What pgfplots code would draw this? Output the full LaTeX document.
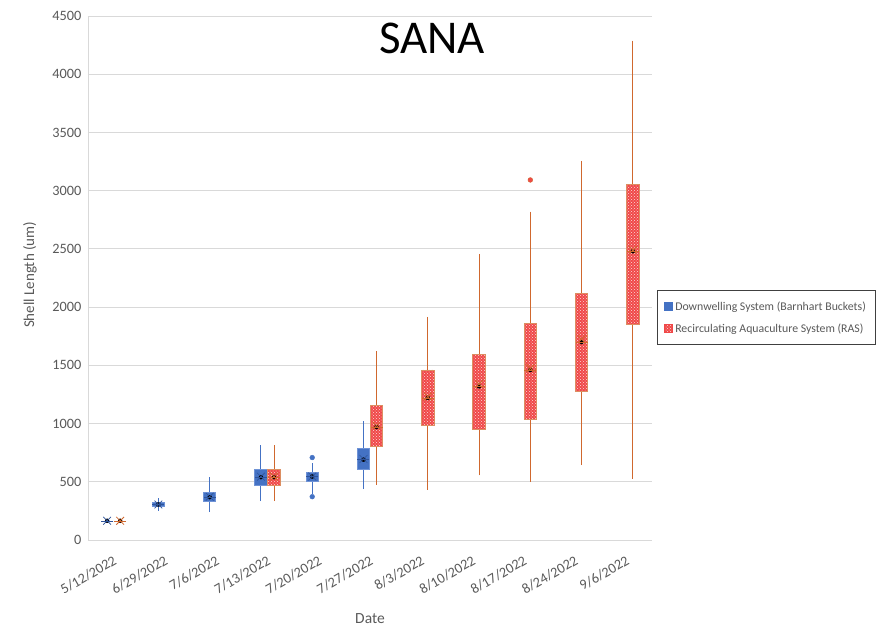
\documentclass[border=0pt]{standalone}
\usepackage{fontspec}
\setmainfont{Carlito}
\usepackage{pgfplots}
\usepackage{pgfplotstable}
\pgfplotsset{compat=1.18}
\usetikzlibrary{patterns}
\definecolor{dwblue}{HTML}{4472C4}
\definecolor{dwedge}{HTML}{6F93D6}
\definecolor{dwmean}{HTML}{2F549A}
\definecolor{rasor}{HTML}{D0682E}
\definecolor{rasfill}{HTML}{F04848}
\definecolor{txt}{HTML}{595959}
\definecolor{gridc}{HTML}{D9D9D9}
% pos, lower whisker, q1, median, q3, upper whisker, mean
\pgfplotstableread{
p lw q1 med q3 uw avg
-0.127 165 165 165 165 165 165
0.873 272 290 305 322 338 305
1.873 258 330 368 412 521 372
2.873 352 472 540 607 793 544
3.873 415 504 545 584 640 545
4.873 455 607 690 790 1000 696
}\dwdata
\pgfplotstableread{
p lw q1 med q3 uw avg
0.127 165 165 165 165 165 165
3.127 352 470 540 607 793 544
5.127 495 801 970 1159 1603 982
6.127 449 988 1220 1460 1898 1231
7.127 573 951 1320 1592 2439 1340
8.127 515 1037 1460 1858 2802 1474
9.127 661 1277 1700 2115 3238 1724
10.127 544 1855 2480 3057 4270 2490
}\rasdata
\pgfplotsset{
  dwbox/.style={forget plot, draw=dwedge, fill=dwblue, line width=0.9pt},
  rasbox/.style={forget plot, draw=rasor!75, fill=rasfill, line width=0.9pt,
    postaction={pattern=crosshatch dots, pattern color=white!80!rasfill}},
}
\begin{document}
\begin{tikzpicture}
\begin{axis}[
  scale only axis, width=564pt, height=524pt,
  xmin=-0.5, xmax=10.5, ymin=0, ymax=4500,
  ytick={0,500,...,4500},
  xtick={0,...,10},
  xticklabels={5/12/2022,6/29/2022,7/6/2022,7/13/2022,7/20/2022,7/27/2022,8/3/2022,8/10/2022,8/17/2022,8/24/2022,9/6/2022},
  xticklabel style={rotate=30, anchor=north east, yshift=-9pt, xshift=-5pt, font=\fontsize{14.3}{16}\selectfont, text=txt},
  yticklabel style={font=\fontsize{14.3}{16}\selectfont, text=txt, xshift=-3pt},
  /pgf/number format/assume math mode=true,
  /pgf/number format/1000 sep={},
  major tick length=0pt,
  ymajorgrids, grid style={gridc, line width=0.9pt},
  axis x line*=bottom, axis y line*=left,
  axis line style={gridc, line width=0.9pt, -},
  xlabel={Date}, ylabel={Shell Length (um)},
  every axis x label/.style={at={(axis description cs:0.5,-0.149)}, anchor=center, font=\fontsize{15.5}{18}\selectfont, text=txt},
  every axis y label/.style={at={(axis description cs:-0.103,0.506)}, rotate=90, anchor=center, font=\fontsize{15}{18}\selectfont, text=txt},
  title={SANA},
  title style={at={(axis description cs:0.61,0.945)}, anchor=center, font=\fontsize{47}{52}\selectfont, text=black},
  legend style={at={(axis description cs:1.009,0.477)}, anchor=north west, draw=black!75, line width=0.8pt,
    font=\fontsize{11.8}{14}\selectfont, text=txt, inner xsep=7pt, inner ysep=9pt, row sep=8pt},
  legend cell align=left,
]
\addlegendimage{legend image code/.code={\fill[dwblue] (9pt,-4pt) rectangle (17pt,4pt);}}
\addlegendentry{Downwelling System (Barnhart Buckets)}
\addlegendimage{legend image code/.code={\fill[rasfill, postaction={pattern=crosshatch dots, pattern color=white!80!rasfill}] (9pt,-4pt) rectangle (17pt,4pt);}}
\addlegendentry{Recirculating Aquaculture System (RAS)}

% whiskers (Downwelling)
\addplot[forget plot, only marks, mark=none, error bars/.cd, y dir=both, y explicit,
  error mark=-, error mark options={dwblue, mark size=2.2pt, line width=0.9pt},
  error bar style={dwblue, line width=0.9pt}]
  table[x=p, y=med, y error plus expr=\thisrow{uw}-\thisrow{med}, y error minus expr=\thisrow{med}-\thisrow{lw}] {\dwdata};
% whiskers (RAS)
\addplot[forget plot, only marks, mark=none, error bars/.cd, y dir=both, y explicit,
  error mark=-, error mark options={rasor, mark size=2.2pt, line width=0.9pt},
  error bar style={rasor, line width=0.9pt}]
  table[x=p, y=med, y error plus expr=\thisrow{uw}-\thisrow{med}, y error minus expr=\thisrow{med}-\thisrow{lw}] {\rasdata};

% boxes (Downwelling): quartiles
\addplot[dwbox] coordinates {(0.751,290) (0.995,290) (0.995,322) (0.751,322)} --cycle;
\addplot[dwbox] coordinates {(1.751,330) (1.995,330) (1.995,412) (1.751,412)} --cycle;
\addplot[dwbox] coordinates {(2.751,472) (2.995,472) (2.995,607) (2.751,607)} --cycle;
\addplot[dwbox] coordinates {(3.751,504) (3.995,504) (3.995,584) (3.751,584)} --cycle;
\addplot[dwbox] coordinates {(4.751,607) (4.995,607) (4.995,790) (4.751,790)} --cycle;
% boxes (RAS)
\addplot[rasbox] coordinates {(3.005,470) (3.249,470) (3.249,607) (3.005,607)} --cycle;
\addplot[rasbox] coordinates {(5.005,801) (5.249,801) (5.249,1159) (5.005,1159)} --cycle;
\addplot[rasbox] coordinates {(6.005,988) (6.249,988) (6.249,1460) (6.005,1460)} --cycle;
\addplot[rasbox] coordinates {(7.005,951) (7.249,951) (7.249,1592) (7.005,1592)} --cycle;
\addplot[rasbox] coordinates {(8.005,1037) (8.249,1037) (8.249,1858) (8.005,1858)} --cycle;
\addplot[rasbox] coordinates {(9.005,1277) (9.249,1277) (9.249,2115) (9.005,2115)} --cycle;
\addplot[rasbox] coordinates {(10.005,1855) (10.249,1855) (10.249,3057) (10.005,3057)} --cycle;

% medians
\addplot[forget plot, only marks, mark=-, mark size=6pt, mark options={draw=dwmean, line width=0.4pt}] table[x=p, y=med] {\dwdata};
\addplot[forget plot, only marks, mark=-, mark size=6pt, mark options={draw=rasor, line width=0.4pt}] table[x=p, y=med] {\rasdata};
% means
\addplot[forget plot, only marks, mark=x, mark size=5.5pt, mark options={draw=dwmean, line width=0.6pt}] table[x=p, y=avg] {\dwdata};
\addplot[forget plot, only marks, mark=x, mark size=5.5pt, mark options={draw=rasor, line width=0.8pt}] table[x=p, y=avg] {\rasdata};
% outliers
\addplot[forget plot, only marks, mark=*, mark size=2.4pt, mark options={fill=dwblue, draw=dwblue}] coordinates {(3.873,708) (3.873,372)};
\addplot[forget plot, only marks, mark=*, mark size=2.4pt, mark options={fill=rasfill, draw=rasor}] coordinates {(8.127,3092)};
\coordinate (SW) at (rel axis cs:0,0);
\end{axis}
\pgfresetboundingbox
\path (SW) ++(-88pt,-90pt) rectangle ++(888pt,630pt);
\end{tikzpicture}
\end{document}
